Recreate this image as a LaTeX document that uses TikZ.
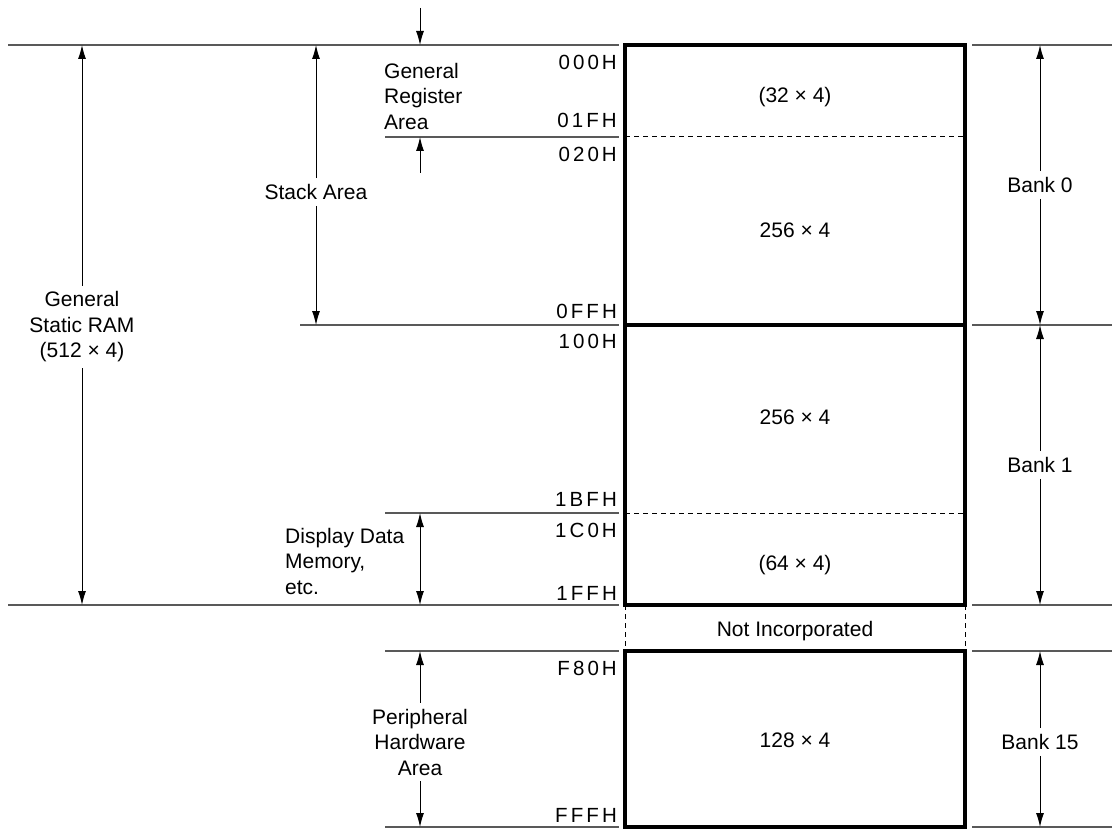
\documentclass[tikz,border=0pt]{standalone}
\usepackage{fontspec}
\setmainfont{Liberation Sans}
\newfontfamily\addrfont[LetterSpace=15]{Liberation Sans}
\usetikzlibrary{arrows.meta}

\tikzset{
  rule/.style={line width=1.2pt, black!65},
  membox/.style={line width=3.2pt},
  divider/.style={line width=1pt, dash pattern=on 5pt off 4pt},
  arr/.style={line width=1pt, -{Latex[length=14pt,width=8pt]}},
  dimboth/.style={line width=1pt, {Latex[length=14pt,width=8pt]}-{Latex[length=14pt,width=8pt]}},
  addr/.style={anchor=base east, inner sep=0pt, font=\addrfont\fontsize{20.5}{24}\selectfont},
  lbl/.style={align=center, inner sep=6pt},
  size/.style={inner sep=2pt}
}

\begin{document}
\begin{tikzpicture}[x=1pt, y=-1pt, font=\fontsize{21}{25.5}\selectfont]
    \useasboundingbox (0,0) rectangle (1114,829);

    % horizontal rules
    \draw[rule] (8,45) -- (619,45);
    \draw[rule] (385,137) -- (619,137);
    \draw[rule] (300,325) -- (619,325);
    \draw[rule] (385,513) -- (619,513);
    \draw[rule] (8,605) -- (619,605);
    \draw[rule] (385,651) -- (619,651);
    \draw[rule] (385,827) -- (619,827);
    \foreach \y in {45,325,605,651,827}
        \draw[rule] (972,\y) -- (1112,\y);

    % memory map
    \draw[membox] (625,45) rectangle (965,605);
    \draw[membox] (625,325) -- (965,325);
    \draw[divider] (625,137) -- (965,137);
    \draw[divider] (625,513) -- (965,513);
    \draw[divider] (625,605) -- (625,651);
    \draw[divider] (965,605) -- (965,651);
    \draw[membox] (625,651) rectangle (965,827);

    \node[size] (s32)  at (795,97)  {(32 × 4)};
    \node[size] (s256a) at (795,230) {256 × 4};
    \node[size] (s256b) at (795,417) {256 × 4};
    \node[size] (s64)  at (795,565) {(64 × 4)};
    \node[size] (ninc) at (795,631) {Not Incorporated};
    \node[size] (s128) at (795,740) {128 × 4};

    % addresses
    \node[addr] (a000) at (617,70)  {000H};
    \node[addr] (a01f) at (617,128) {01FH};
    \node[addr] (a020) at (617,162) {020H};
    \node[addr] (a0ff) at (617,318) {0FFH};
    \node[addr] (a100) at (617,348) {100H};
    \node[addr] (a1bf) at (617,506) {1BFH};
    \node[addr] (a1c0) at (617,537) {1C0H};
    \node[addr] (a1ff) at (617,600) {1FFH};
    \node[addr] (af80) at (617,675) {F80H};
    \node[addr] (afff) at (617,822) {FFFH};

    % left side labels
    \node[lbl] (gsr) at (82,327) {General\\Static RAM\\(512 × 4)};
    \coordinate (gsrtop) at (82,45);
    \coordinate (gsrbot) at (82,605);
    \draw[arr] (gsr.north) -- (gsrtop);
    \draw[arr] (gsr.south) -- (gsrbot);

    \node[lbl] (stack) at (316,192) {Stack Area};
    \coordinate (stacktop) at (316,45);
    \coordinate (stackbot) at (316,325);
    \draw[arr] (stack.north) -- (stacktop);
    \draw[arr] (stack.south) -- (stackbot);

    \node[align=left, anchor=west, inner sep=0pt] (greg) at (384,96) {General\\Register\\Area};
    \coordinate (grin) at (420,8);
    \coordinate (grtop) at (420,45);
    \coordinate (grtail) at (420,173);
    \coordinate (grbot) at (420,137);
    \draw[arr] (grin) -- (grtop);
    \draw[arr] (grtail) -- (grbot);

    \node[align=left, anchor=west, inner sep=0pt] (ddm) at (285,561) {Display Data\\Memory,\\etc.};
    \coordinate (ddtop) at (420,513);
    \coordinate (ddbot) at (420,605);
    \draw[dimboth] (ddtop) -- (ddbot);

    \node[lbl] (phw) at (420,742) {Peripheral\\Hardware\\Area};
    \coordinate (phwtop) at (420,651);
    \coordinate (phwbot) at (420,827);
    \draw[arr] (phw.north) -- (phwtop);
    \draw[arr] (phw.south) -- (phwbot);

    % banks
    \node[lbl] (bank0) at (1040,185) {Bank 0};
    \node[lbl] (bank1) at (1040,465) {Bank 1};
    \node[lbl] (bank15) at (1040,742) {Bank 15};
    \coordinate (b0top) at (1040,45);
    \coordinate (bmid) at (1040,325);
    \coordinate (b1bot) at (1040,605);
    \coordinate (b15top) at (1040,651);
    \coordinate (b15bot) at (1040,827);
    \draw[arr] (bank0.north) -- (b0top);
    \draw[arr] (bank0.south) -- (bmid);
    \draw[arr] (bank1.north) -- (bmid);
    \draw[arr] (bank1.south) -- (b1bot);
    \draw[arr] (bank15.north) -- (b15top);
    \draw[arr] (bank15.south) -- (b15bot);
\end{tikzpicture}
\end{document}
